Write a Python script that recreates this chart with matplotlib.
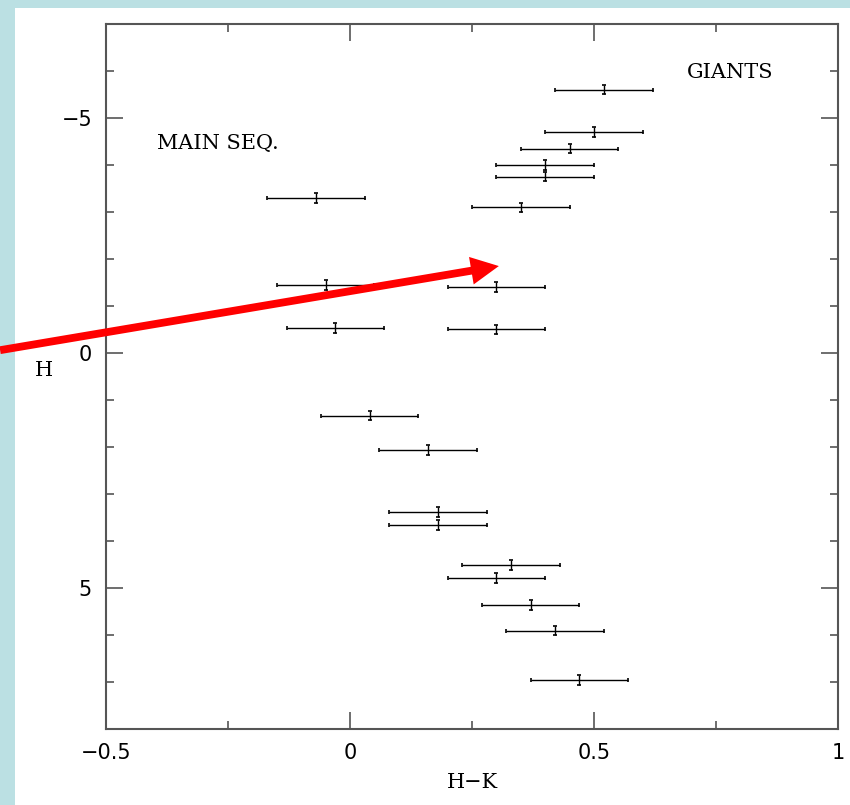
import numpy as np
import matplotlib.pyplot as plt
from matplotlib.patches import Rectangle
from matplotlib.ticker import MultipleLocator

# H-K colour, H magnitude and H-K uncertainty
hk = [0.52, 0.50, 0.45, 0.40, 0.40, 0.35, -0.07, -0.05, 0.30, -0.03, 0.30,
      0.04, 0.16, 0.18, 0.18, 0.33, 0.30, 0.37, 0.42, 0.47]
hmag = [-5.6, -4.7, -4.35, -4.0, -3.75, -3.1, -3.3, -1.45, -1.4, -0.53, -0.5,
        1.33, 2.06, 3.38, 3.66, 4.51, 4.79, 5.36, 5.91, 6.96]
hk_err = [0.1] * len(hk)
h_err = [0.1] * len(hk)

fig = plt.figure(figsize=(8.5, 8.05), dpi=100)
fig.patch.set_facecolor('#bbe0e3')
fig.patches.append(Rectangle((15 / 850, 0), 1, 1 - 8 / 805, transform=fig.transFigure,
                             facecolor='white', edgecolor='none', zorder=0))

ax = fig.add_axes([106 / 850, 1 - 729 / 805, 732 / 850, 705 / 805])
ax.set_zorder(2)
ax.set_facecolor('white')

ax.errorbar(hk, hmag, xerr=hk_err, yerr=h_err, fmt='none', ecolor='black',
            elinewidth=1.0, capsize=1.6, capthick=1.2)

ax.set_xlim(-0.5, 1.0)
ax.set_ylim(8, -7)
ax.xaxis.set_minor_locator(MultipleLocator(0.25))
ax.yaxis.set_minor_locator(MultipleLocator(1))
ax.set_xticks([-0.5, 0, 0.5, 1])
ax.set_xticklabels(['\u22120.5', '0', '0.5', '1'])
ax.set_yticks([-5, 0, 5])
ax.set_yticklabels(['\u22125', '0', '5'])

ax.tick_params(which='both', direction='in', top=True, right=True, color='#555555',
               width=1.2, labelsize=15, pad=10)
ax.tick_params(which='major', length=12)
ax.tick_params(which='minor', length=5.5)
for s in ax.spines.values():
    s.set_color('#555555')
    s.set_linewidth(1.5)

ax.set_xlabel('H\u2212K', family='DejaVu Serif', fontsize=15)
ax.xaxis.set_label_coords(0.5, -0.062)
ax.set_ylabel('H', family='DejaVu Serif', fontsize=15, rotation=0, va='center')
ax.yaxis.set_label_coords(-0.085, 0.509)

ax.text(-0.395, -4.45, 'MAIN SEQ.', family='DejaVu Serif', fontsize=15, va='center')
ax.text(0.69, -5.96, 'GIANTS', family='DejaVu Serif', fontsize=15, va='center')

# red arrow from the left edge of the figure to the gap between the two groups
ax.annotate('', xy=(0.305, -1.85), xytext=(-0.717, -0.06),
            xycoords='data', textcoords='data', annotation_clip=False,
            arrowprops=dict(arrowstyle='-|>,head_length=11,head_width=5.5',
                            mutation_scale=1, color='red', lw=5.6,
                            joinstyle='miter', capstyle='butt',
                            shrinkA=0, shrinkB=0))

plt.savefig('out.png', dpi=100, facecolor=fig.get_facecolor())
